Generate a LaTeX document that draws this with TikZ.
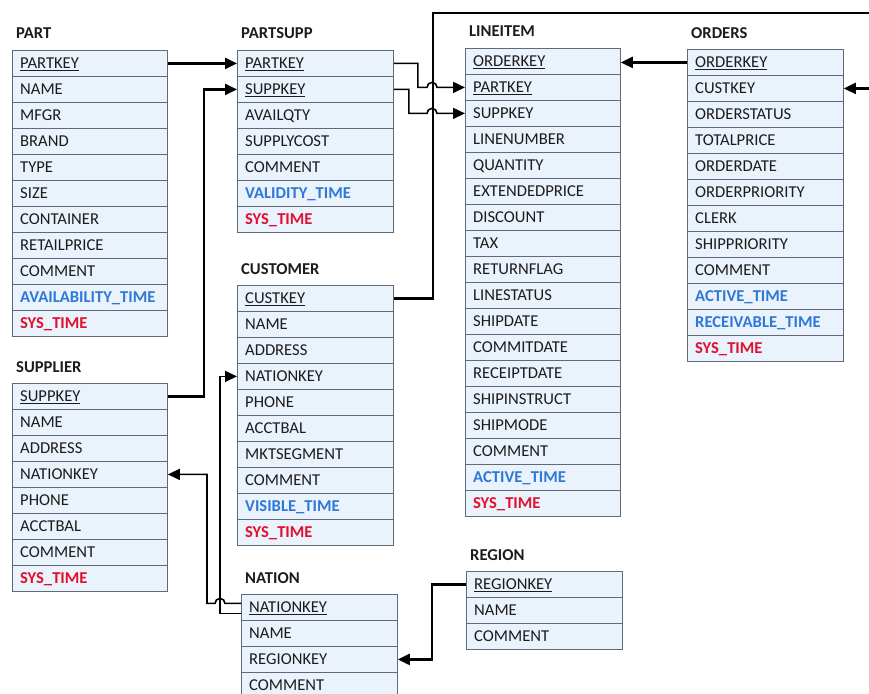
\documentclass[tikz,border=0pt]{standalone}
\usepackage{fontspec}
\setmainfont{Carlito}
\usetikzlibrary{arrows.meta}
\definecolor{cellfill}{HTML}{EAF2FB}
\definecolor{cellline}{HTML}{5E6A76}
\definecolor{txt}{HTML}{1C1C1C}
\definecolor{tblue}{HTML}{2E78D8}
\definecolor{tred}{HTML}{E0102F}
\newcommand\cellfont{\fontsize{16.6}{19}\selectfont}
\tikzset{
  cell/.style={draw=cellline, line width=0.8pt, fill=cellfill, minimum height=26pt, inner sep=0pt, anchor=north west},
  celltext/.style={anchor=base west, inner sep=0pt, font=\cellfont, text=txt},
  kn/.style={},
  kb/.style={text=tblue, font=\cellfont\bfseries},
  kr/.style={text=tred, font=\cellfont\bfseries},
  ttl/.style={anchor=base west, inner sep=0pt, font=\cellfont\bfseries, text=txt},
  fk/.style={line width=2.4pt, -{Triangle[length=12pt,width=11pt]}},
  fkthin/.style={line width=1.6pt, -{Triangle[length=12pt,width=11pt]}},
}
\newcommand\dbtable[6]{%
  \node[ttl] at ({#2+4}, {#3-11}) {#5};
  \foreach[count=\i] \s/\t in {#6} {
    \node[cell, minimum width=#4pt] (#1-\i) at (#2, {#3+(\i-1)*26}) {};
    \node[celltext, \s] at ([xshift=8pt, yshift=-5.4pt]#1-\i.west) {\t};
  }%
}
\begin{document}
\begin{tikzpicture}[x=1pt, y=-1pt]
\useasboundingbox (0,0) rectangle (869,693);
\clip (0,0) rectangle (869,693);

\dbtable{part}{12}{50}{155}{PART}{kn/\underline{PARTKEY}, kn/NAME, kn/MFGR, kn/BRAND, kn/TYPE, kn/SIZE, kn/CONTAINER, kn/RETAILPRICE, kn/COMMENT, kb/AVAILABILITY\_TIME, kr/SYS\_TIME}
\dbtable{partsupp}{237}{50}{156}{PARTSUPP}{kn/\underline{PARTKEY}, kn/\underline{SUPPKEY}, kn/AVAILQTY, kn/SUPPLYCOST, kn/COMMENT, kb/VALIDITY\_TIME, kr/SYS\_TIME}
\dbtable{customer}{237}{285}{156}{CUSTOMER}{kn/\underline{CUSTKEY}, kn/NAME, kn/ADDRESS, kn/NATIONKEY, kn/PHONE, kn/ACCTBAL, kn/MKTSEGMENT, kn/COMMENT, kb/VISIBLE\_TIME, kr/SYS\_TIME}
\dbtable{supplier}{12}{383}{155}{SUPPLIER}{kn/\underline{SUPPKEY}, kn/NAME, kn/ADDRESS, kn/NATIONKEY, kn/PHONE, kn/ACCTBAL, kn/COMMENT, kr/SYS\_TIME}
\dbtable{nation}{241}{594}{156}{NATION}{kn/\underline{NATIONKEY}, kn/NAME, kn/REGIONKEY, kn/COMMENT}
\dbtable{lineitem}{465}{48}{155}{LINEITEM}{kn/\underline{ORDERKEY}, kn/\underline{PARTKEY}, kn/SUPPKEY, kn/LINENUMBER, kn/QUANTITY, kn/EXTENDEDPRICE, kn/DISCOUNT, kn/TAX, kn/RETURNFLAG, kn/LINESTATUS, kn/SHIPDATE, kn/COMMITDATE, kn/RECEIPTDATE, kn/SHIPINSTRUCT, kn/SHIPMODE, kn/COMMENT, kb/ACTIVE\_TIME, kr/SYS\_TIME}
\dbtable{orders}{687}{49}{156}{ORDERS}{kn/\underline{ORDERKEY}, kn/CUSTKEY, kn/ORDERSTATUS, kn/TOTALPRICE, kn/ORDERDATE, kn/ORDERPRIORITY, kn/CLERK, kn/SHIPPRIORITY, kn/COMMENT, kb/ACTIVE\_TIME, kb/RECEIVABLE\_TIME, kr/SYS\_TIME}
\dbtable{region}{466}{571}{156}{REGION}{kn/\underline{REGIONKEY}, kn/NAME, kn/COMMENT}

\coordinate (topright) at (878,13);

% PART -> PARTSUPP
\draw[fk] (part-1.east) -- (partsupp-1.west);
% SUPPLIER -> PARTSUPP
\draw[fk] (supplier-1.east) -- ++(36,0) |- (partsupp-2.west);
% CUSTOMER -> ORDERS
\draw[fk] (customer-1.east) -- ++(39,0) |- (topright) |- (orders-2.east);
% PARTSUPP -> LINEITEM
\draw[fkthin] (partsupp-1.east) -- ++(24,0) |- ([xshift=-38pt]lineitem-2.west) arc[start angle=180, end angle=0, radius=5pt] -- (lineitem-2.west);
\draw[fkthin] (partsupp-2.east) -- ++(15,0) |- ([xshift=-38pt]lineitem-3.west) arc[start angle=180, end angle=0, radius=5pt] -- (lineitem-3.west);
% ORDERS -> LINEITEM
\draw[fk] (orders-1.west) -- (orders-1.west -| lineitem-1.east);
% NATION -> CUSTOMER, SUPPLIER
\draw[fkthin] ([yshift=-6pt]nation-1.west) -- ++(-21,0) |- (customer-4.west);
\draw[fkthin] ([yshift=4pt]nation-1.west) -- ++(-16,0) arc[start angle=0, end angle=180, radius=5pt] -- ++(-8,0) |- (supplier-4.east);
% REGION -> NATION
\draw[fk] (region-1.west) -- ++(-34,0) |- (nation-3.east);
\end{tikzpicture}
\end{document}
